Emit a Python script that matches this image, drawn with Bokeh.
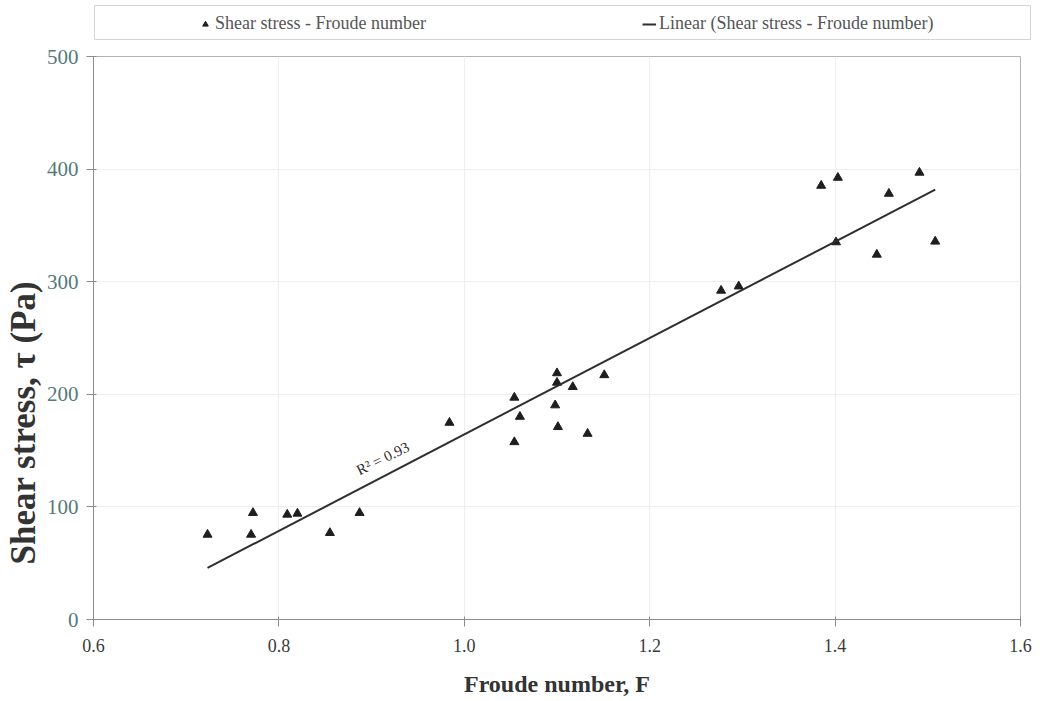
import numpy as np
from bokeh.plotting import figure
from bokeh.layouts import column, row
from bokeh.models import (Legend, LegendItem, Label, Title, FixedTicker, Range1d,
                          PrintfTickFormatter)
from bokeh.embed import file_html
from bokeh.resources import INLINE

# Froude number F and bed shear stress tau (Pa)
froude = [0.723, 0.770, 0.772, 0.809, 0.820, 0.855, 0.887, 0.984, 1.054, 1.054,
          1.060, 1.098, 1.100, 1.100, 1.101, 1.117, 1.133, 1.151, 1.277, 1.296,
          1.385, 1.401, 1.403, 1.445, 1.458, 1.491, 1.508]
shear = [75.4, 75.4, 94.7, 93.2, 94.1, 76.9, 94.7, 174.8, 197.1, 157.6,
         180.1, 190.3, 218.8, 210.4, 171.0, 206.6, 165.0, 217.1, 292.1, 295.9,
         385.3, 335.1, 392.4, 324.1, 378.2, 396.9, 335.7]

x_ticks = [0.6, 0.8, 1.0, 1.2, 1.4, 1.6]
y_ticks = [0, 100, 200, 300, 400, 500]
r_squared = 0.93
series_label = "Shear stress - Froude number"
trend_label = "Linear (Shear stress - Froude number)"

# least-squares linear trendline over the data span
slope, intercept = np.polyfit(froude, shear, 1)
fit_x = [min(froude), max(froude)]
fit_y = [slope * v + intercept for v in fit_x]

SERIF = "Liberation Serif"
MARK = "#1e1e1e"
LINE = "#2e2e2e"

# ---- main scatter chart ----
p = figure(width=1040, height=661, x_range=Range1d(0.6, 1.6), y_range=Range1d(0, 500),
           output_backend="svg", toolbar_location=None,
           min_border_left=93, min_border_right=20, min_border_top=16, min_border_bottom=82)
p.background_fill_color = "white"
p.border_fill_color = "white"
p.outline_line_color = "#b4b4b4"

p.scatter(froude, shear, marker="triangle", size=9, fill_color=MARK, line_color=MARK)
p.line(fit_x, fit_y, line_color=LINE, line_width=2)

p.xaxis.ticker = FixedTicker(ticks=x_ticks)
p.yaxis.ticker = FixedTicker(ticks=y_ticks)
p.xaxis.formatter = PrintfTickFormatter(format="%.1f")
p.yaxis.formatter = PrintfTickFormatter(format="%d")
for ax in (p.xaxis, p.yaxis):
    ax.axis_line_color = "#8c8c8c"
    ax.major_tick_line_color = "#8c8c8c"
    ax.minor_tick_line_color = None
    ax.major_tick_out = 7
    ax.major_tick_in = 3
    ax.major_label_text_font = SERIF
p.xaxis.major_label_text_font_size = "18px"
p.yaxis.major_label_text_font_size = "21px"
p.xaxis.major_label_text_color = "#3a3a3a"
p.yaxis.major_label_text_color = "#557a7a"
p.xaxis.major_label_standoff = 12
p.yaxis.major_label_standoff = 8

p.xaxis.axis_label = "Froude number, F"
p.xaxis.axis_label_text_font = SERIF
p.xaxis.axis_label_text_font_style = "bold"
p.xaxis.axis_label_text_font_size = "24px"
p.xaxis.axis_label_text_color = "#333333"
p.xaxis.axis_label_standoff = 16

# vertical title, set lower than the middle of the plot area
p.add_layout(Title(text="Shear stress, \u03c4 (Pa)", align="left", offset=55, standoff=2,
                   text_font=SERIF, text_font_style="bold", text_font_size="35px",
                   text_color="#333333"), "left")

p.xgrid.ticker = FixedTicker(ticks=x_ticks)
p.ygrid.ticker = FixedTicker(ticks=y_ticks)
p.grid.grid_line_color = "#efefef"
p.grid.grid_line_width = 1

# coefficient of determination written along the trendline
p.add_layout(Label(x=0.912, y=143, text=f"R\u00b2 = {r_squared:.2f}", angle=26,
                   angle_units="deg", text_align="center", text_baseline="middle",
                   text_font=SERIF, text_font_size="15px", text_color=LINE))

# ---- legend strip above the chart ----
# the key glyphs carry the same data; this strip's ranges keep them out of view
lg = figure(width=1040, height=40, x_range=Range1d(0, 1), y_range=Range1d(0, 1),
            output_backend="svg", toolbar_location=None,
            x_axis_location=None, y_axis_location=None,
            min_border_left=94, min_border_right=10, min_border_top=5, min_border_bottom=0)
lg.grid.visible = False
lg.outline_line_color = "#d4d4d4"
lg.background_fill_color = "white"
lg.border_fill_color = "white"
key_pts = lg.scatter(froude, shear, marker="triangle", size=9, fill_color=MARK, line_color=MARK)
key_line = lg.line(fit_x, fit_y, line_color=LINE, line_width=2)

legend = Legend(items=[LegendItem(label=series_label, renderers=[key_pts]),
                       LegendItem(label=trend_label, renderers=[key_line])],
                orientation="horizontal", location=(104, 6),
                glyph_width=14, glyph_height=16, label_standoff=3, label_width=225,
                spacing=202, padding=0, margin=0,
                border_line_color=None, background_fill_alpha=0,
                label_text_font=SERIF, label_text_font_size="18px",
                label_text_color="#555555")
lg.add_layout(legend, "center")

page = column(row(lg), p, spacing=0)
open("out.html", "w").write(file_html(page, INLINE))
